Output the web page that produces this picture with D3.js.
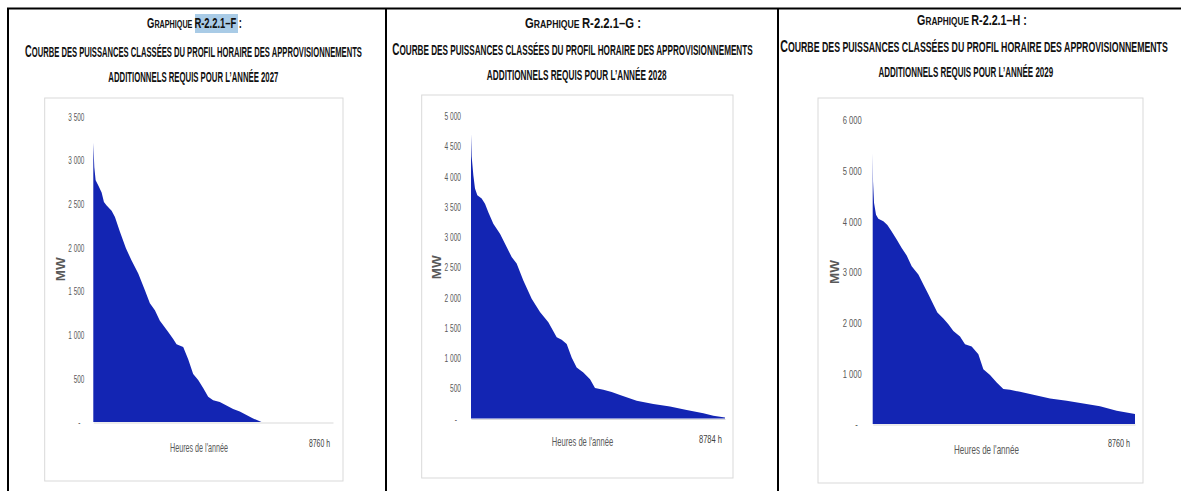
<!DOCTYPE html>
<html><head><meta charset="utf-8">
<script src="https://cdn.jsdelivr.net/npm/d3@7"></script>
<style>html,body{margin:0;padding:0;background:#fff;} svg{display:block}</style>
</head><body><svg id="c" width="1181" height="491"></svg>
<script>
// ---------- DATA ----------
const hours2027 = [0,37,85,183,304,389,487,669,791,973,1192,1399,1643,1886,2068,2251,2433,2738,2920,3042,3285,3468,3650,3833,4015,4198,4380,4623,4867,5110,5353,5597,5840,6083,6144,8760];
const mw2027    = [3200,2920,2770,2710,2630,2520,2480,2420,2350,2180,1990,1850,1700,1510,1360,1280,1160,1030,950,890,860,720,550,480,390,290,250,230,190,150,120,80,40,10,0,0];

const hours2028 = [0,23,81,138,219,369,484,599,772,1003,1233,1406,1579,1810,2098,2386,2675,2963,3136,3309,3481,3654,3885,4116,4288,4577,4865,5153,5729,6306,6882,7459,8035,8381,8784];
const mw2028    = [4700,4330,4020,3800,3690,3635,3550,3410,3220,3055,2835,2670,2560,2280,1980,1760,1590,1345,1300,1230,1010,845,760,650,505,475,440,390,295,240,200,140,85,45,17];

const hours2029 = [0,11,45,111,189,356,490,634,801,968,1135,1302,1525,1692,1859,2026,2159,2360,2527,2694,2916,3083,3306,3529,3695,3918,4141,4363,4586,4920,5365,5922,6478,7035,7591,8148,8760];
const mw2029    = [5340,4790,4360,4130,4050,4000,3930,3800,3640,3475,3325,3115,2950,2755,2560,2360,2200,2080,1970,1835,1725,1575,1530,1375,1080,965,820,690,675,635,575,505,460,405,350,260,195];

const yTicks2027 = [0,500,1000,1500,2000,2500,3000,3500];
const yTicks2028 = [0,500,1000,1500,2000,2500,3000,3500,4000,4500,5000];
const yTicks2029 = [0,1000,2000,3000,4000,5000,6000];

const years = ["2027","2028","2029"];
const codes = ["R-2.2.1–F","R-2.2.1–G","R-2.2.1–H"];
const hoursInYear = [8760,8784,8760];
const endLabels = ["8760 h","8784 h","8760 h"];
const yAxisTitle = "MW";
const xAxisTitle = "Heures de l'année";
const titleWord = "Graphique";
const titleLine2 = "Courbe des puissances classées du profil horaire des approvisionnements";
const titleLine3 = "additionnels requis pour l’année ";

// ---------- LAYOUT ----------
const layout = [
  {box:[44.7,98,343,481], x0:93.3, x1:333, yBase:422, yTop:116.5, pad:9, tickW:16,
   t1:[194.5,28,95], t2:[193.5,56.5,337], t3:[193.3,81.5,170],
   xt:[199,452,58], xe:[309,447,21], mw:60},
  {box:[421.7,95,733,478], x0:471, x1:725, yBase:418.5, yTop:116, pad:10, tickW:16.5,
   t1:[583,28,116], t2:[572.5,55,361], t3:[576.7,80,180],
   xt:[582.5,446,61.6], xe:[699,443,23], mw:436},
  {box:[818,98,1143,483], x0:872.7, x1:1135, yBase:424, yTop:120, pad:11, tickW:19,
   t1:[972,24.5,110], t2:[974,51.5,388], t3:[965.8,77,175],
   xt:[986.5,454,65], xe:[1108,447,22], mw:834.5}
];
const series = [
  {hours:hours2027, mw:mw2027, ticks:yTicks2027},
  {hours:hours2028, mw:mw2028, ticks:yTicks2028},
  {hours:hours2029, mw:mw2029, ticks:yTicks2029}
];

const svg = d3.select("#c");
const titleFont = "'Liberation Sans Narrow','Arial Narrow','Liberation Sans',Arial,sans-serif";
const narrow = "'Liberation Sans Narrow','Arial Narrow','Liberation Sans',Arial,sans-serif";
const fr = d3.formatLocale({decimal:",", thousands:"\u00a0", grouping:[3], currency:["",""]});
const fmt = fr.format(",d");

// table lines
const tbl = svg.append("g").attr("stroke","#000").attr("stroke-width",2);
tbl.append("line").attr("x1",7).attr("x2",1181).attr("y1",8.5).attr("y2",8.5);
[8,386,778].forEach(x=>tbl.append("line").attr("x1",x).attr("x2",x).attr("y1",8).attr("y2",491));

function squeeze(textSel, cx, y, w){
  const bw = textSel.node().getBBox().width;
  textSel.attr("transform", `translate(${cx},${y}) scale(${w/bw},1)`);
}

series.forEach((s,i)=>{
  const L = layout[i];
  const g = svg.append("g");

  g.append("rect").attr("x",L.box[0]).attr("y",L.box[1])
    .attr("width",L.box[2]-L.box[0]).attr("height",L.box[3]-L.box[1])
    .attr("fill","#fff").attr("stroke","#d9d9d9").attr("stroke-width",1);

  if(i===0){
    g.append("rect").attr("x",195).attr("y",14).attr("width",43).attr("height",19).attr("fill","#a9cbe6");
  }

  const t1 = g.append("text").attr("text-anchor","middle").attr("font-family",titleFont)
    .attr("font-weight","bold").attr("fill","#111");
  t1.append("tspan").attr("font-size",15).text(titleWord[0].toUpperCase());
  t1.append("tspan").attr("font-size",11.5).text(titleWord.slice(1).toUpperCase()+" ");
  t1.append("tspan").attr("font-size",15).text(codes[i]+" :");
  squeeze(t1, L.t1[0], L.t1[1], L.t1[2]);

  const t2 = g.append("text").attr("text-anchor","middle").attr("font-family",titleFont)
    .attr("font-weight","bold").attr("fill","#111");
  t2.append("tspan").attr("font-size",17).text(titleLine2[0].toUpperCase());
  t2.append("tspan").attr("font-size",14).text(titleLine2.slice(1).toUpperCase());
  squeeze(t2, L.t2[0], L.t2[1], L.t2[2]);

  const t3 = g.append("text").attr("text-anchor","middle").attr("font-family",titleFont)
    .attr("font-weight","bold").attr("fill","#111").attr("font-size",14.5)
    .text(titleLine3.toUpperCase()+years[i]);
  squeeze(t3, L.t3[0], L.t3[1], L.t3[2]);

  const x = d3.scaleLinear().domain([0,hoursInYear[i]]).range([L.x0,L.x1]);
  const y = d3.scaleLinear().domain([0,d3.max(s.ticks)]).range([L.yBase,L.yTop]);

  const pts = s.hours.map((h,j)=>[h,s.mw[j]]);
  const area = d3.area().x(d=>x(d[0])).y0(y(0)).y1(d=>y(d[1])).curve(d3.curveLinear);
  g.append("path").datum(pts).attr("d",area).attr("fill","#1325b3");

  const xa = g.append("g").attr("transform",`translate(0,${y(0)+0.5})`)
    .call(d3.axisBottom(x).tickValues([]).tickSize(0));
  xa.select(".domain").attr("stroke","#d9d9d9").attr("stroke-width",1.2);

  const ya = g.append("g").attr("transform",`translate(${L.x0},0)`)
    .call(d3.axisLeft(y).tickValues(s.ticks).tickSize(0).tickPadding(L.pad)
      .tickFormat(d=> d===0 ? "-" : fmt(d)));
  ya.select(".domain").remove();
  const tt = ya.selectAll("text").attr("font-family",narrow).attr("font-size",11.5).attr("fill","#595959");
  const maxW = d3.max(tt.nodes(), n=>n.getBBox().width);
  const k = L.tickW / maxW;
  tt.each(function(d){
      const t = d3.select(this);
      const xx = +t.attr("x");
      const extra = d===0 ? -4 : 0;
      t.attr("x",0).attr("transform",`translate(${xx+extra},0) scale(${k},1)`);
    });

  g.append("text").attr("font-family","'Liberation Sans',Arial,sans-serif").attr("font-weight","bold")
    .attr("font-size",13.5).attr("fill","#595959").attr("text-anchor","middle").attr("dy","0.35em")
    .attr("transform",`translate(${L.mw},${(L.yBase+L.yTop)/2}) rotate(-90)`).text(yAxisTitle);

  const xt = g.append("text").attr("font-family",narrow).attr("font-size",12.5)
    .attr("fill","#595959").attr("text-anchor","middle").text(xAxisTitle);
  squeeze(xt, L.xt[0], L.xt[1], L.xt[2]);

  const xe = g.append("text").attr("font-family",narrow).attr("font-size",11.5)
    .attr("fill","#404040").attr("text-anchor","start").text(endLabels[i]);
  squeeze(xe, L.xe[0], L.xe[1], L.xe[2]);
});
</script>
</body></html>
